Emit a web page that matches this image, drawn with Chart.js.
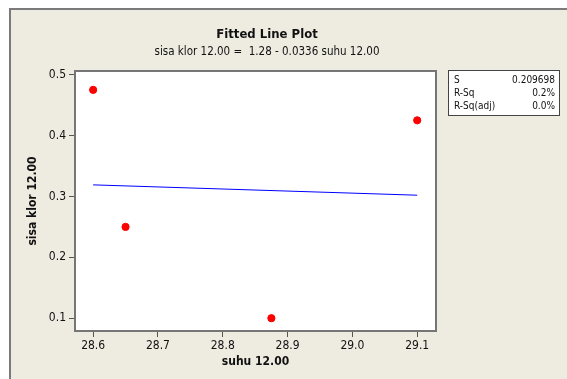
<!DOCTYPE html>
<html>
<head>
<meta charset="utf-8">
<script src="https://cdn.jsdelivr.net/npm/chart.js@4.4.1/dist/chart.umd.min.js"></script>
<style>
  html, body { margin: 0; padding: 0; background: #fff; }
  #wrap { width: 567px; height: 379px; }
</style>
</head>
<body>
<div id="wrap"><canvas id="fitChart" width="567" height="379"></canvas></div>
<script>
var suhu = [28.6, 28.65, 28.875, 29.1];
var sisaKlor = [0.475, 0.25, 0.10, 0.425];

// fitted line end points
var fitX = [28.6, 29.1];
var fitY = [0.319, 0.302];

var xTicks = [28.6, 28.7, 28.8, 28.9, 29.0, 29.1];
var yTicks = [0.1, 0.2, 0.3, 0.4, 0.5];

var statLabels = ['S', 'R-Sq', 'R-Sq(adj)'];
var statValues = ['0.209698', '0.2%', '0.0%'];

var FONT = 'Tahoma, "DejaVu Sans Condensed", "Liberation Sans", sans-serif';
var BEIGE = '#eeebe1';

var framePlugin = {
    id: 'frame',
    beforeDraw: function (chart) {
        var c = chart.ctx, a = chart.chartArea;
        c.save();
        c.fillStyle = '#ffffff';
        c.fillRect(0, 0, chart.width, chart.height);
        c.fillStyle = BEIGE;
        c.fillRect(9, 8, chart.width, chart.height);
        c.strokeStyle = '#7b7b7b';
        c.lineWidth = 2;
        c.strokeRect(10, 9, chart.width + 10, chart.height + 10);
        c.fillStyle = '#ffffff';
        c.fillRect(a.left, a.top, a.right - a.left, a.bottom - a.top);
        c.restore();
    },
    afterDraw: function (chart) {
        var c = chart.ctx, a = chart.chartArea;
        c.save();
        // plot border
        c.strokeStyle = '#767676';
        c.lineWidth = 2;
        c.strokeRect(a.left, a.top, a.right - a.left, a.bottom - a.top);

        // titles
        c.fillStyle = '#111';
        c.textAlign = 'center';
        c.textBaseline = 'middle';
        c.font = 'bold 13px ' + FONT;
        c.fillText('Fitted Line Plot', 267, 35);
        c.font = '11.5px ' + FONT;
        c.fillText('sisa klor 12.00 =  1.28 - 0.0336 suhu 12.00', 267, 52);

        // stats box
        c.fillStyle = '#ffffff';
        c.fillRect(448, 70, 111, 45);
        c.strokeStyle = '#444';
        c.lineWidth = 1;
        c.strokeRect(448.5, 70.5, 111, 45);
        c.fillStyle = '#111';
        c.font = '10px ' + FONT;
        for (var i = 0; i < statLabels.length; i++) {
            var y = 80 + i * 13.4;
            c.textAlign = 'left';
            c.fillText(statLabels[i], 454, y);
            c.textAlign = 'right';
            c.fillText(statValues[i], 555, y);
        }
        c.restore();
    }
};

var ctx = document.getElementById('fitChart').getContext('2d');
var chart = new Chart(ctx, {
    type: 'scatter',
    data: {
        datasets: [{
            label: 'data',
            data: suhu.map(function (x, i) { return { x: x, y: sisaKlor[i] }; }),
            backgroundColor: '#ff0000',
            borderColor: '#ff0000',
            pointRadius: 3.6,
            pointHoverRadius: 3.6
        }, {
            label: 'fit',
            data: fitX.map(function (x, i) { return { x: x, y: fitY[i] }; }),
            showLine: true,
            borderColor: '#0000ff',
            borderWidth: 1,
            pointRadius: 0
        }]
    },
    options: {
        responsive: false,
        animation: false,
        layout: { padding: { left: 0, top: 71, right: 131, bottom: 0 } },
        plugins: {
            legend: { display: false },
            tooltip: { enabled: false }
        },
        scales: {
            x: {
                type: 'linear',
                min: 28.572,
                max: 29.129,
                afterFit: function (s) { s.height = 48; },
                afterBuildTicks: function (s) { s.ticks = xTicks.map(function (v) { return { value: v }; }); },
                grid: { drawOnChartArea: false, tickLength: 6, color: '#555' },
                border: { display: false },
                ticks: {
                    color: '#111',
                    padding: 2,
                    font: { family: FONT, size: 12 },
                    maxRotation: 0,
                    callback: function (v) { return v.toFixed(1); }
                },
                title: {
                    display: true,
                    text: 'suhu 12.00',
                    color: '#111',
                    font: { family: FONT, size: 12, weight: 'bold' },
                    padding: { top: 0, bottom: 10 }
                }
            },
            y: {
                type: 'linear',
                min: 0.079,
                max: 0.506,
                afterFit: function (s) { s.width = 75; },
                afterBuildTicks: function (s) { s.ticks = yTicks.map(function (v) { return { value: v }; }); },
                grid: { drawOnChartArea: false, tickLength: 6, color: '#555' },
                border: { display: false },
                ticks: {
                    color: '#111',
                    padding: 3,
                    font: { family: FONT, size: 12 },
                    callback: function (v) { return v.toFixed(1); }
                },
                title: {
                    display: true,
                    text: 'sisa klor 12.00',
                    color: '#111',
                    font: { family: FONT, size: 12, weight: 'bold' },
                    padding: { top: 26, bottom: 0 }
                }
            }
        }
    },
    plugins: [framePlugin]
});
</script>
</body>
</html>
